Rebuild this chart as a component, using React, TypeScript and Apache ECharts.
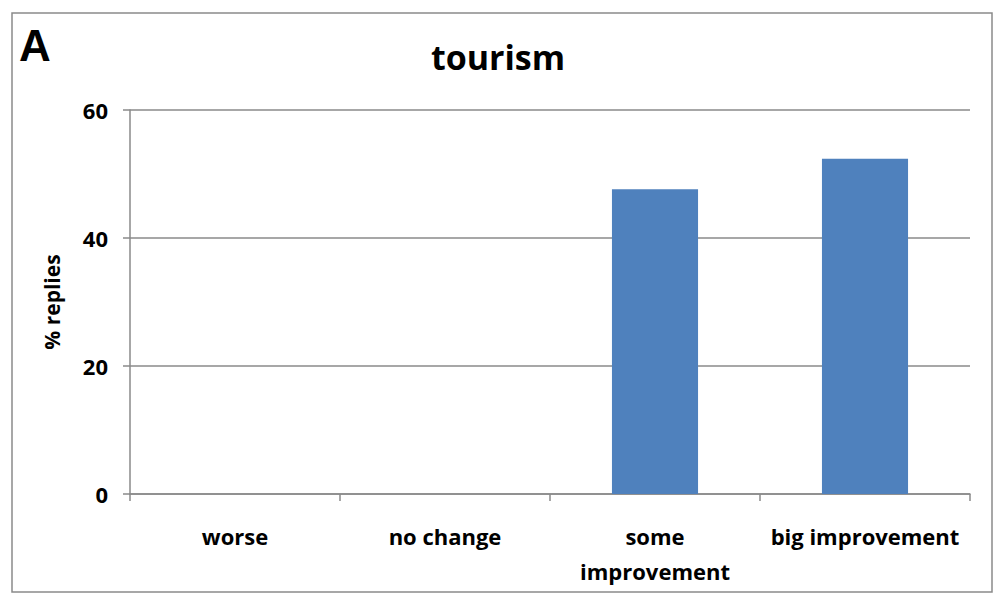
import React, { useEffect, useRef } from "react";
import * as echarts from "echarts";

const categories = ["worse", "no change", "some improvement", "big improvement"];
const replies = [0, 0, 47.6, 52.4];
const yTicks = [0, 20, 40, 60];
const chartTitle = "tourism";
const panelLetter = "A";
const yAxisName = "% replies";

export default function App() {
  const ref = useRef<HTMLDivElement>(null);
  useEffect(() => {
    if (!ref.current) return;
    const chart = echarts.init(ref.current, undefined, { renderer: "svg" });
    const font = "'Open Sans', 'DejaVu Sans', sans-serif";
    chart.setOption({
      animation: false,
      backgroundColor: "#ffffff",
      textStyle: { fontFamily: font },
      title: {
        text: chartTitle,
        left: 493,
        top: 35,
        textAlign: "center",
        textStyle: { fontSize: 34, fontWeight: "bold", color: "#000", fontFamily: font },
      },
      graphic: [
        {
          type: "rect",
          shape: { x: 12, y: 13, width: 980, height: 579 },
          style: { fill: "none", stroke: "#8a8a8a", lineWidth: 1.5 },
          silent: true,
        },
        {
          type: "text",
          left: 19,
          top: 23,
          style: { text: panelLetter, fontSize: 44, fontWeight: "bold", fill: "#000", fontFamily: "'Liberation Sans', sans-serif" },
        },
      ],
      grid: { left: 130, top: 110, right: 30, bottom: 110, containLabel: false },
      xAxis: {
        type: "category",
        data: categories,
        axisLine: { show: true, lineStyle: { color: "#8a8a8a", width: 1.5 } },
        axisTick: { show: true, alignWithLabel: false, length: 7, lineStyle: { color: "#8a8a8a", width: 1.5 } },
        axisLabel: {
          interval: 0,
          margin: 24,
          fontSize: 22,
          fontWeight: "bold",
          color: "#000",
          lineHeight: 35,
          fontFamily: font,
          formatter: (v: string) => (v === "some improvement" ? "some\nimprovement" : v),
        },
      },
      yAxis: {
        type: "value",
        min: 0,
        max: yTicks[yTicks.length - 1],
        interval: 20,
        name: yAxisName,
        nameLocation: "middle",
        nameRotate: 90,
        nameGap: 68,
        nameTextStyle: { fontSize: 21, fontWeight: "bold", color: "#000", fontFamily: font },
        axisLine: { show: true, lineStyle: { color: "#8a8a8a", width: 1.5 } },
        axisTick: { show: true, length: 7, lineStyle: { color: "#8a8a8a", width: 1.5 } },
        axisLabel: { margin: 22, fontSize: 22, fontWeight: "bold", color: "#000", fontFamily: font },
        splitLine: { show: true, lineStyle: { color: "#8a8a8a", width: 1.5 } },
      },
      series: [
        {
          type: "bar",
          data: replies,
          barWidth: "41%",
          itemStyle: { color: "#4f81bd" },
        },
      ],
    });
    return () => chart.dispose();
  }, []);
  return (
    <div
      ref={ref}
      style={{ position: "fixed", left: 0, top: 0, width: 1000, height: 604 }}
    />
  );
}
